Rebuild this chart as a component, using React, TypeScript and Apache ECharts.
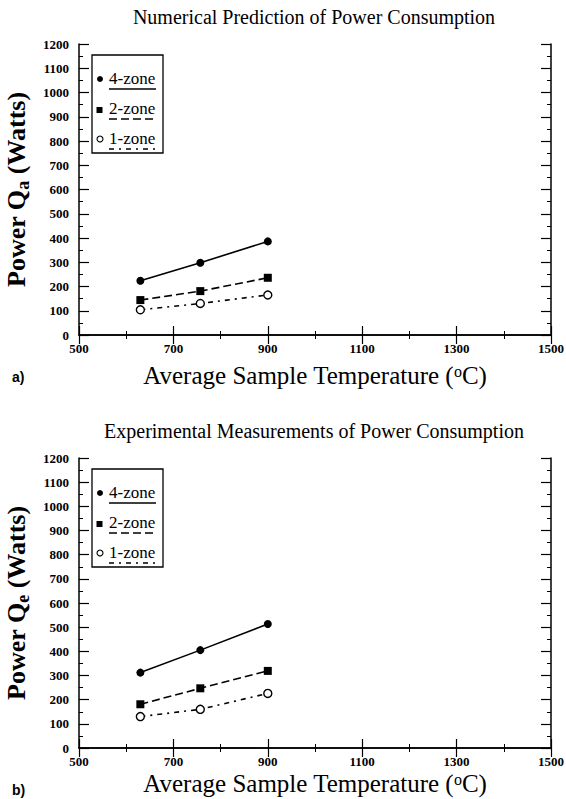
import React, { useEffect, useRef } from "react";
import * as echarts from "echarts";

// ---- data ----
const temperatures = [630, 757, 900];
const predicted4Zone = [224, 298, 386];
const predicted2Zone = [144, 181, 236];
const predicted1Zone = [104, 130, 165];
const measured4Zone = [312, 405, 513];
const measured2Zone = [181, 247, 319];
const measured1Zone = [130, 160, 226];
const zoneNames = ["4-zone", "2-zone", "1-zone"];
const panelTitles = [
  "Numerical Prediction of Power Consumption",
  "Experimental Measurements of Power Consumption",
];
const panelLetters = ["a)", "b)"];
const ySubscripts = ["a", "e"];

const SERIF = "'Liberation Serif', 'Times New Roman', serif";
const SANS = "'Liberation Sans', Arial, sans-serif";

const GRID_LEFT = 79;
const GRID_W = 472;
const GRID_TOPS = [44, 458];
const GRID_H = [291, 290];
const X_NAME_GAPS = [28, 23];

const lineTypes: any[] = ["solid", [8, 4], [5, 5, 2, 5]];
const symbols = ["circle", "rect", "circle"];
const symbolSizes = [8, 8, 8];
const fills = ["#000", "#000", "#fff"];

function pairs(xs: number[], ys: number[]) {
  return xs.map((x, i) => [x, ys[i]]);
}

export default function App() {
  const ref = useRef<HTMLDivElement>(null);
  useEffect(() => {
    if (!ref.current) return;
    const chart = echarts.init(ref.current, null, { renderer: "svg" });
    const panels = [
      [predicted4Zone, predicted2Zone, predicted1Zone],
      [measured4Zone, measured2Zone, measured1Zone],
    ];

    const grids: any[] = [];
    const xAxes: any[] = [];
    const yAxes: any[] = [];
    const series: any[] = [];
    const graphic: any[] = [];

    const tickLabel = {
      fontFamily: SERIF,
      fontWeight: "bold",
      fontSize: 13,
      color: "#000",
      formatter: (v: number) => String(v),
    };
    const axisLine = { show: true, lineStyle: { color: "#000", width: 1.5 } };

    panels.forEach((vals, p) => {
      grids.push({
        left: GRID_LEFT,
        top: GRID_TOPS[p],
        width: GRID_W,
        height: GRID_H[p],
        containLabel: false,
        outerBoundsMode: "none",
      });
      const xBase = {
        type: "value",
        gridIndex: p,
        min: 500,
        max: 1500,
        interval: 200,
        splitLine: { show: false },
        axisLine,
        axisTick: { show: true, inside: true, length: 9, lineStyle: { color: "#000", width: 1.2 } },
        minorTick: { show: true, splitNumber: 2, length: 4, lineStyle: { color: "#000", width: 1 } },
      };
      xAxes.push({
        ...xBase,
        position: "bottom",
        axisLabel: { ...tickLabel, margin: 7 },
        name: "{t|Average Sample Temperature (}{s|o}{t|C)}",
        nameLocation: "middle",
        nameGap: X_NAME_GAPS[p],
        nameTextStyle: {
          rich: {
            t: { fontFamily: SERIF, fontSize: 25, color: "#000", lineHeight: 25 },
            s: { fontFamily: SERIF, fontSize: 16, color: "#000", lineHeight: 10, verticalAlign: "top" },
          },
        },
      });
      xAxes.push({ ...xBase, position: "top", axisLabel: { show: false } });

      const yBase = {
        type: "value",
        gridIndex: p,
        min: 0,
        max: 1200,
        interval: 100,
        splitLine: { show: false },
        axisLine,
        axisTick: { show: true, inside: true, length: 10, lineStyle: { color: "#000", width: 1.2 } },
        minorTick: { show: true, splitNumber: 2, length: 4, lineStyle: { color: "#000", width: 1 } },
      };
      yAxes.push({
        ...yBase,
        position: "left",
        axisLabel: { ...tickLabel, margin: 10 },
        name: `{t|Power Q}{b|${ySubscripts[p]}}{t| (Watts)}`,
        nameLocation: "middle",
        nameRotate: 90,
        nameGap: 36,
        nameTextStyle: {
          rich: {
            t: { fontFamily: SERIF, fontSize: 26, fontWeight: "bold", color: "#000", lineHeight: 28 },
            b: { fontFamily: SERIF, fontSize: 18, fontWeight: "bold", color: "#000", lineHeight: 32, verticalAlign: "bottom" },
          },
        },
      });
      yAxes.push({ ...yBase, position: "right", axisLabel: { show: false } });

      vals.forEach((ys, s) => {
        series.push({
          type: "line",
          name: zoneNames[s],
          xAxisIndex: p * 2,
          yAxisIndex: p * 2,
          data: pairs(temperatures, ys),
          symbol: symbols[s],
          symbolSize: symbolSizes[s],
          showAllSymbol: true,
          lineStyle: { color: "#000", width: 1.6, type: lineTypes[s] },
          itemStyle: { color: fills[s], borderColor: "#000", borderWidth: s === 2 ? 1.4 : 0 },
          z: 3,
        });
      });

      // panel title
      const top = GRID_TOPS[p];
      graphic.push({
        type: "text",
        x: 314,
        y: top - 27,
        style: {
          text: panelTitles[p],
          font: `20px ${SERIF}`,
          fill: "#000",
          align: "center",
          verticalAlign: "middle",
          textAlign: "center",
          textVerticalAlign: "middle",
        },
      });
      // panel letter
      graphic.push({
        type: "text",
        x: 12,
        y: top + GRID_H[p] + 42,
        style: {
          text: panelLetters[p],
          font: `bold 14px ${SANS}`,
          fill: "#000",
          align: "left",
          verticalAlign: "middle",
          textAlign: "left",
          textVerticalAlign: "middle",
        },
      });
      // legend box
      const lx = 92;
      const ly = top + 11;
      graphic.push({
        type: "rect",
        shape: { x: lx, y: ly, width: 71, height: 98 },
        style: { fill: "#fff", stroke: "#000", lineWidth: 1.3 },
        z: 10,
      });
      zoneNames.forEach((nm, s) => {
        const ty = ly + 23 + s * 30;
        if (s === 1) {
          graphic.push({
            type: "rect",
            shape: { x: lx + 4.5, y: ty - 1, width: 6, height: 6 },
            style: { fill: "#000" },
            z: 11,
          });
        } else {
          graphic.push({
            type: "circle",
            shape: { cx: lx + 8, cy: ty + 1, r: 3 },
            style: s === 0 ? { fill: "#000" } : { fill: "#fff", stroke: "#000", lineWidth: 1.1 },
            z: 11,
          });
        }
        graphic.push({
          type: "text",
          x: lx + 17,
          y: ty,
          style: {
            text: nm,
            font: `17px ${SERIF}`,
            fill: "#000",
            align: "left",
            verticalAlign: "middle",
            textAlign: "left",
            textVerticalAlign: "middle",
          },
          z: 11,
        });
        graphic.push({
          type: "line",
          shape: { x1: lx + 17, y1: ty + 11, x2: lx + 64, y2: ty + 11 },
          style: {
            stroke: "#000",
            lineWidth: 1.6,
            lineDash: lineTypes[s] === "solid" ? null : lineTypes[s],
          },
          z: 11,
        });
      });
    });

    chart.setOption({
      animation: false,
      backgroundColor: "#fff",
      grid: grids,
      xAxis: xAxes,
      yAxis: yAxes,
      series,
      graphic,
    });
    return () => chart.dispose();
  }, []);

  return (
    <div
      ref={ref}
      style={{ position: "fixed", left: 0, top: 0, width: 566, height: 799, background: "#fff" }}
    />
  );
}
